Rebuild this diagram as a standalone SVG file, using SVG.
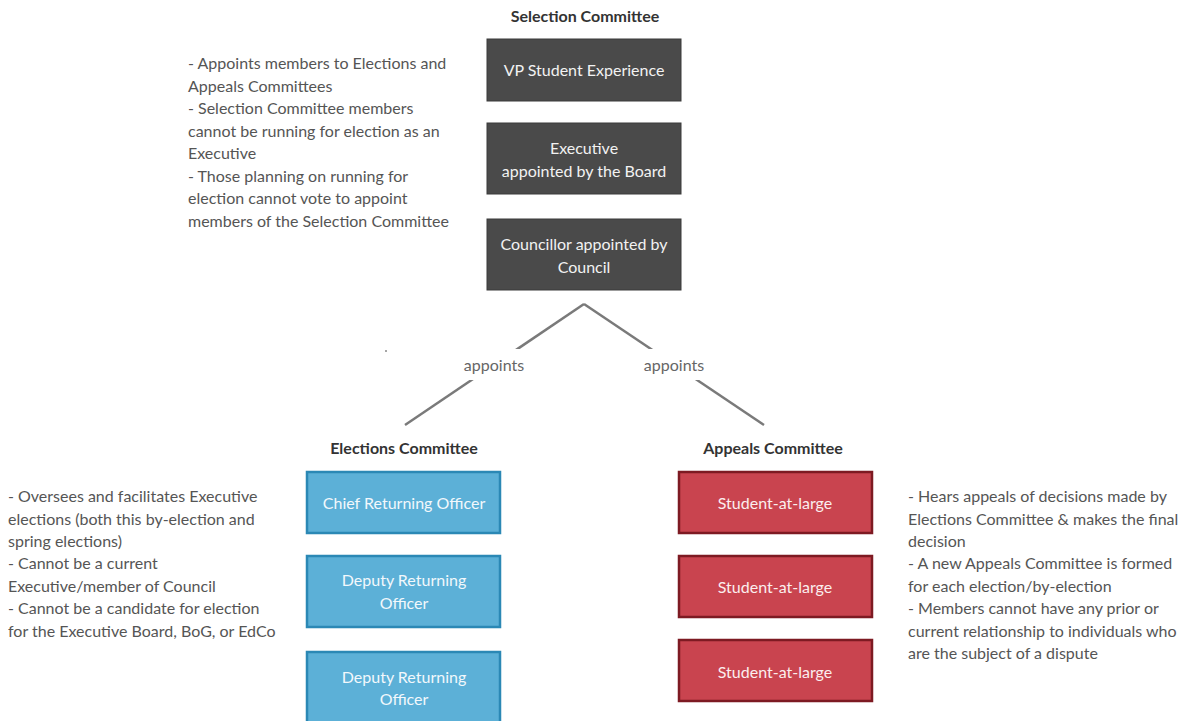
<svg xmlns="http://www.w3.org/2000/svg" width="1185" height="721" viewBox="0 0 1185 721">
<style>
text{font-family:Lato,"Open Sans","Liberation Sans",sans-serif;font-size:16px}
.h{font-weight:bold;fill:#333;text-anchor:middle}
.note{fill:#555}
.dark rect{fill:#4a4a4a;stroke:#3a3a3a;stroke-width:1}
.dark text{fill:#f2f2f2;text-anchor:middle}
.blue rect{fill:#5cb0d7;stroke:#2b88b5;stroke-width:2.5}
.blue text{fill:#f2f8fc;text-anchor:middle}
.red rect{fill:#c9444f;stroke:#7d1a22;stroke-width:2.5}
.red text{fill:#fbeeee;text-anchor:middle}
.conn line{stroke:#7a7a7a;stroke-width:2.5}
.lbl{fill:#666;text-anchor:middle}
</style>
<rect width="1185" height="721" fill="#fff"/>
<text class="h" x="585" y="22">Selection Committee</text>
<text class="h" x="404" y="454">Elections Committee</text>
<text class="h" x="773" y="454">Appeals Committee</text>

<g id="connectors" class="conn">
<line x1="584" y1="304" x2="405" y2="425"/>
<line x1="584" y1="304" x2="764" y2="425"/>
<rect x="454" y="349" width="80" height="31" fill="#fff"/>
<rect x="634" y="349" width="80" height="31" fill="#fff"/>
<text class="lbl" x="494" y="371">appoints</text>
<text class="lbl" x="674" y="371">appoints</text>
</g>
<circle cx="386" cy="351" r="1" fill="#888"/>

<g id="vp" class="dark"><rect x="487" y="39" width="194" height="62"/><text x="584" y="76">VP Student Experience</text></g>
<g id="exec" class="dark"><rect x="487" y="123" width="194" height="71"/><text x="584" y="154">Executive</text><text x="584" y="177">appointed by the Board</text></g>
<g id="councillor" class="dark"><rect x="487" y="219" width="194" height="71"/><text x="584" y="250">Councillor appointed by</text><text x="584" y="273">Council</text></g>

<g id="cro" class="blue"><rect x="307" y="472" width="193" height="61"/><text x="404" y="509">Chief Returning Officer</text></g>
<g id="dro1" class="blue"><rect x="307" y="556" width="193" height="71"/><text x="404" y="586">Deputy Returning</text><text x="404" y="609">Officer</text></g>
<g id="dro2" class="blue"><rect x="307" y="652" width="193" height="75"/><text x="404" y="683">Deputy Returning</text><text x="404" y="705">Officer</text></g>

<g id="sal1" class="red"><rect x="679" y="472" width="193" height="61"/><text x="775" y="509">Student-at-large</text></g>
<g id="sal2" class="red"><rect x="679" y="556" width="193" height="61"/><text x="775" y="593">Student-at-large</text></g>
<g id="sal3" class="red"><rect x="679" y="640" width="193" height="61"/><text x="775" y="678">Student-at-large</text></g>

<g id="note-selection" class="note">
<text x="188" y="69">- Appoints members to Elections and</text>
<text x="188" y="92">Appeals Committees</text>
<text x="188" y="114">- Selection Committee members</text>
<text x="188" y="137">cannot be running for election as an</text>
<text x="188" y="159">Executive</text>
<text x="188" y="182">- Those planning on running for</text>
<text x="188" y="204">election cannot vote to appoint</text>
<text x="188" y="227">members of the Selection Committee</text>
</g>
<g id="note-elections" class="note">
<text x="8" y="502">- Oversees and facilitates Executive</text>
<text x="8" y="525">elections (both this by-election and</text>
<text x="8" y="547">spring elections)</text>
<text x="8" y="569">- Cannot be a current</text>
<text x="8" y="592">Executive/member of Council</text>
<text x="8" y="614">- Cannot be a candidate for election</text>
<text x="8" y="637">for the Executive Board, BoG, or EdCo</text>
</g>
<g id="note-appeals" class="note">
<text x="908" y="502">- Hears appeals of decisions made by</text>
<text x="908" y="525">Elections Committee &amp; makes the final</text>
<text x="908" y="547">decision</text>
<text x="908" y="569">- A new Appeals Committee is formed</text>
<text x="908" y="592">for each election/by-election</text>
<text x="908" y="614">- Members cannot have any prior or</text>
<text x="908" y="637">current relationship to individuals who</text>
<text x="908" y="659">are the subject of a dispute</text>
</g>
</svg>
